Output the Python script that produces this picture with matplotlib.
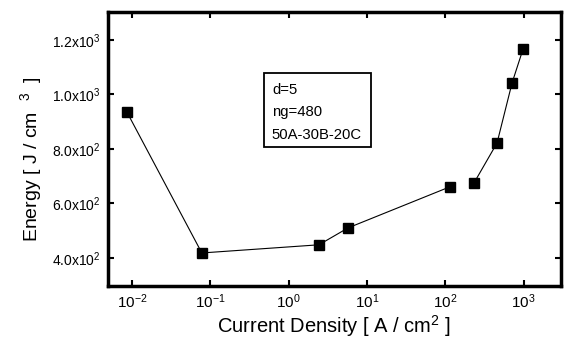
import matplotlib
matplotlib.use("Agg")
from matplotlib import pyplot as plt
from matplotlib.patches import Rectangle

plt.rcParams['font.family'] = ['Liberation Sans', 'DejaVu Sans']
plt.rcParams['mathtext.fontset'] = 'custom'
plt.rcParams['mathtext.rm'] = 'Liberation Sans'
plt.rcParams['mathtext.it'] = 'Liberation Sans'

# --- data ---
current_density = [0.0086, 0.078, 2.44, 5.74, 115, 233, 459, 713, 986]
energy = [936, 418, 448, 510, 661, 675, 822, 1042, 1167]

x_ticks = [1e-2, 1e-1, 1e0, 1e1, 1e2, 1e3]
x_tick_labels = ["10$^{-2}$", "10$^{-1}$", "10$^{0}$", "10$^{1}$", "10$^{2}$", "10$^{3}$"]
y_ticks = [400, 600, 800, 1000, 1200]
y_tick_labels = ["4.0x10$^{2}$", "6.0x10$^{2}$", "8.0x10$^{2}$", "1.0x10$^{3}$", "1.2x10$^{3}$"]
box_lines = ["d=5", "ng=480", "50A-30B-20C"]

fig = plt.figure(figsize=(5.65, 3.42), dpi=100)
ax = fig.add_axes([0.191, 0.164, 0.802, 0.801])

# line has a break between the 5th and 6th point in the original
ax.plot(current_density[:5], energy[:5], color='black', lw=0.8)
ax.plot(current_density[5:], energy[5:], color='black', lw=0.8)
ax.plot(current_density, energy, ls='none', marker='s', ms=7.5, color='black')

ax.set_xscale('log')
ax.set_xlim(0.00493, 3013)
ax.set_ylim(297, 1303)
ax.set_xticks(x_ticks)
ax.set_xticklabels(x_tick_labels, fontsize=11)
ax.set_yticks(y_ticks)
ax.set_yticklabels(y_tick_labels, fontsize=10)
ax.minorticks_off()
ax.tick_params(direction='in', length=4, width=1.5, top=True, right=True, pad=5)

for sp in ax.spines.values():
    sp.set_linewidth(2.5)

ax.set_xlabel("Current Density [ A / cm$^{2}$ ]", fontsize=14.5, labelpad=1)
ax.set_ylabel("Energy [ J / cm  $^{3}$  ]", fontsize=14)
ax.yaxis.set_label_coords(-0.14, 0.463)

# annotation box
ax.add_patch(Rectangle((0.344, 0.507), 0.237, 0.27, transform=ax.transAxes,
                       fill=False, lw=1.3, ec='black'))
for t, yy in zip(box_lines, [0.715, 0.635, 0.551]):
    ax.text(0.362, yy, t, transform=ax.transAxes,
            fontsize=10.7, va='center', ha='left')

fig.savefig("out.png", dpi=100)
